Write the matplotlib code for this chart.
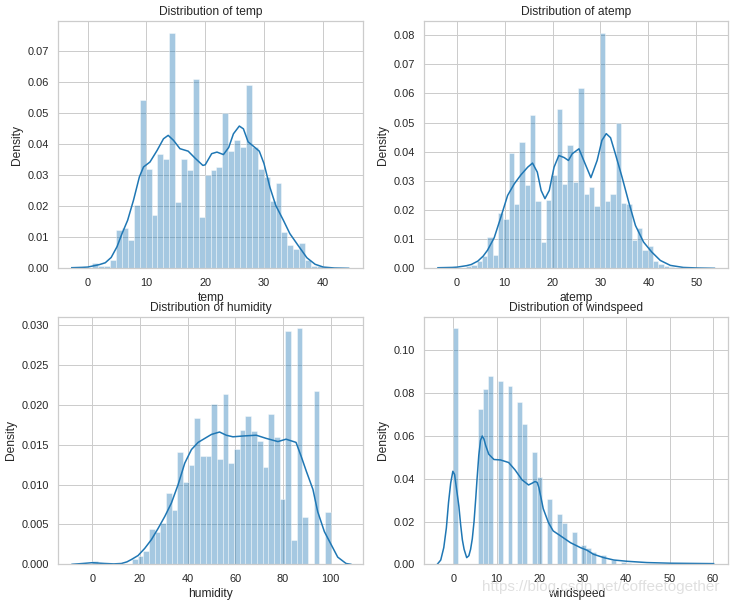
import numpy as np
import matplotlib.pyplot as plt
from matplotlib.ticker import MultipleLocator

# histogram densities (one value per bin)
temp_range = (0.82, 41.0)
temp_density = [0.0017, 0.0006, 0.0006, 0.0028, 0.0125, 0.0131, 0.0090, 0.0205,
                0.0544, 0.0322, 0.0173, 0.0370, 0.0354, 0.0760, 0.0214, 0.0354,
                0.0316, 0.0612, 0.0166, 0.0300, 0.0317, 0.0327, 0.0501, 0.0380,
                0.0415, 0.0390, 0.0591, 0.0390, 0.0322, 0.0295, 0.0216, 0.0275,
                0.0117, 0.0074, 0.0063, 0.0082, 0.0028, 0.0007, 0.0006, 0.0003]

atemp_range = (0.76, 45.455)
atemp_density = [0.0002, 0.0007, 0.0013, 0.0025, 0.0042, 0.0107, 0.0046, 0.0190,
                 0.0169, 0.0395, 0.0222, 0.0433, 0.0286, 0.0525, 0.0231, 0.0090,
                 0.0233, 0.0319, 0.0547, 0.0290, 0.0424, 0.0296, 0.0620, 0.0256,
                 0.0279, 0.0214, 0.0808, 0.0231, 0.0254, 0.0498, 0.0224, 0.0222,
                 0.0098, 0.0138, 0.0064, 0.0077, 0.0024, 0.0016, 0.0007, 0.0005]

humidity_range = (0, 100)
humidity_density = [0.0004, 0, 0, 0, 0, 0, 0, 0.0007, 0.0010, 0.0017, 0.0044,
                    0.0040, 0.0052, 0.0089, 0.0068, 0.0141, 0.0103, 0.0124, 0.0183,
                    0.0136, 0.0136, 0.0201, 0.0132, 0.0214, 0.0127, 0.0145, 0.0169,
                    0.0186, 0.0167, 0.0155, 0.0122, 0.0189, 0.0160, 0.0082, 0.0293,
                    0.0030, 0.0296, 0.0059, 0, 0.0217, 0, 0.0065]

windspeed_range = (0, 56.9969)
windspeed_density = [0.1103, 0, 0, 0, 0, 0.0725, 0.0819, 0.0881, 0, 0.0855,
                     0, 0.0835, 0, 0.0760, 0.0654, 0, 0.0527, 0.0407, 0, 0.0307,
                     0, 0.0236, 0.0192, 0, 0.0151, 0, 0.0090, 0.0075, 0.0058, 0,
                     0.0042, 0, 0.0020, 0, 0.0011, 0.0006, 0, 0.0003, 0.0003, 0,
                     0.0002, 0, 0.0001, 0.0001, 0, 0.00005, 0, 0, 0, 0.00005]

# kde curves, points
temp_kde_x = [-2.7, -1.0, 0.0, 1.0, 2.0, 3.0, 4.0, 5.0, 5.8, 6.8, 7.8, 8.8, 9.5,
              10.6, 11.8, 12.9, 13.7, 14.6, 15.7, 17.1, 18.3, 19.6, 20.0, 21.1,
              22.0, 23.1, 24.0, 24.8, 25.8, 26.5, 27.3, 28.2, 29.2, 30.0, 31.0,
              32.0, 33.3, 34.4, 35.8, 37.3, 38.7, 40.1, 42.0, 44.4]
temp_kde_y = [0.0002, 0.0003, 0.0004, 0.0008, 0.0012, 0.0018, 0.0035, 0.0070,
              0.0110, 0.0155, 0.0220, 0.0295, 0.0327, 0.0343, 0.0380, 0.0418,
              0.0429, 0.0413, 0.0386, 0.0378, 0.0355, 0.0332, 0.0334, 0.0370,
              0.0375, 0.0367, 0.0390, 0.0434, 0.0459, 0.0450, 0.0408, 0.0394,
              0.0378, 0.0338, 0.0262, 0.0203, 0.0155, 0.0112, 0.0074, 0.0034,
              0.0013, 0.0004, 0.0001, 0.0]

atemp_kde_x = [-3.95, -1.0, 0.0, 2.0, 3.0, 4.4, 5.5, 6.4, 7.8, 9.2, 10.6, 12.0,
               13.4, 14.8, 15.8, 16.8, 17.6, 18.4, 19.3, 20.3, 21.3, 22.4, 23.3,
               24.1, 25.5, 26.5, 28.0, 29.3, 30.3, 31.2, 32.1, 33.1, 34.5, 35.9,
               37.3, 39.0, 40.7, 42.5, 44.6, 47.3, 50.5, 53.8]
atemp_kde_y = [0.0002, 0.0003, 0.0004, 0.0009, 0.0013, 0.0025, 0.0042, 0.0062,
               0.0105, 0.0176, 0.0250, 0.0290, 0.0321, 0.0347, 0.0361, 0.0330,
               0.0267, 0.0239, 0.0267, 0.0347, 0.0387, 0.0380, 0.0370, 0.0393,
               0.0410, 0.0370, 0.0311, 0.0370, 0.0439, 0.0462, 0.0448, 0.0393,
               0.0313, 0.0227, 0.0147, 0.0090, 0.0056, 0.0027, 0.0010, 0.0003,
               0.0001, 0.0]

humidity_kde_x = [-8.5, -4.0, 0.0, 2.5, 5.2, 9.0, 12.2, 14.5, 16.4, 19.2, 22.0,
                  24.8, 27.6, 30.4, 33.2, 36.0, 38.8, 41.6, 44.4, 47.2, 50.0,
                  53.4, 56.2, 59.0, 63.2, 68.8, 73.0, 77.9, 81.3, 85.5, 87.6,
                  89.8, 92.6, 94.6, 97.4, 100.2, 103.0, 106.5, 108.5]
humidity_kde_y = [0.0, 0.0001, 0.0002, 0.00015, 0.0001, 0.00005, 0.0001, 0.0003,
                  0.0006, 0.0011, 0.0020, 0.0031, 0.0045, 0.0060, 0.0077, 0.0100,
                  0.0127, 0.0144, 0.0153, 0.0158, 0.0163, 0.0166, 0.0162, 0.0160,
                  0.0161, 0.0162, 0.0158, 0.0154, 0.0157, 0.0153, 0.0136, 0.0117,
                  0.0094, 0.0066, 0.0041, 0.0025, 0.0009, 0.0001, 0.0]

windspeed_kde_x = [-3.7, -2.9, -2.2, -1.6, -1.1, -0.6, -0.1, 0.3, 0.9, 1.3, 1.7,
                   2.1, 2.5, 3.1, 3.6, 4.0, 4.4, 4.8, 5.2, 5.5, 5.9, 6.3, 6.7,
                   7.1, 7.5, 8.2, 9.4, 10.9, 12.8, 14.3, 15.9, 17.4, 18.3, 18.9,
                   19.4, 19.8, 20.8, 22.0, 23.1, 24.8, 27.1, 29.4, 30.9, 32.4,
                   34.8, 37.1, 40.2, 44.8, 50.2, 55.0, 60.2]
windspeed_kde_y = [0.0, 0.0020, 0.0078, 0.0170, 0.0289, 0.0380, 0.0435, 0.0420,
                   0.0330, 0.0270, 0.0185, 0.0114, 0.0070, 0.0031, 0.0040, 0.0070,
                   0.0120, 0.0200, 0.0310, 0.0400, 0.0510, 0.0580, 0.0600, 0.0585,
                   0.0555, 0.0515, 0.0490, 0.0488, 0.0476, 0.0441, 0.0395, 0.0371,
                   0.0380, 0.0387, 0.0383, 0.0359, 0.0260, 0.0195, 0.0156, 0.0133,
                   0.0101, 0.0078, 0.0066, 0.0047, 0.0031, 0.0020, 0.0014, 0.0008,
                   0.0005, 0.0004, 0.0003]

panels = [
    ("temp", temp_range, temp_density, temp_kde_x, temp_kde_y, (-5.0, 46.9), 10, 0.01),
    ("atemp", atemp_range, atemp_density, atemp_kde_x, atemp_kde_y, (-6.8, 56.7), 10, 0.01),
    ("humidity", humidity_range, humidity_density, humidity_kde_x, humidity_kde_y, (-14.3, 113.5), 20, 0.005),
    ("windspeed", windspeed_range, windspeed_density, windspeed_kde_x, windspeed_kde_y, (-6.7, 63.6), 10, 0.02),
]

plt.rcParams['font.family'] = ['Liberation Sans', 'DejaVu Sans']
plt.rcParams['text.color'] = '#262626'
plt.rcParams['axes.labelcolor'] = '#262626'
plt.rcParams['xtick.color'] = '#262626'
plt.rcParams['ytick.color'] = '#262626'

fig = plt.figure(figsize=(7.35, 6.05), dpi=100)
positions = [
    [0.0793, 0.5565, 0.4150, 0.4088],
    [0.5773, 0.5565, 0.4136, 0.4088],
    [0.0793, 0.0673, 0.4142, 0.4093],
    [0.5773, 0.0673, 0.4136, 0.4093],
]

for pos, (name, rng, dens, kx, ky, xlim, xstep, ystep) in zip(positions, panels):
    ax = fig.add_axes(pos)
    edges = np.linspace(rng[0], rng[1], len(dens) + 1)
    ax.hist(edges[:-1], bins=edges, weights=dens, color='#1f77b4', alpha=0.4,
            edgecolor='white', linewidth=0.72)
    ax.plot(kx, ky, color='#1f77b4', linewidth=1.1)
    ax.set_xlim(*xlim)
    ax.set_ylim(0, max(dens) * 1.05)
    ax.xaxis.set_major_locator(MultipleLocator(xstep))
    ax.yaxis.set_major_locator(MultipleLocator(ystep))
    ax.set_axisbelow(True)
    ax.grid(True, color='#cccccc', linewidth=0.72)
    for s in ax.spines.values():
        s.set_color('#cccccc')
        s.set_linewidth(0.9)
    ax.tick_params(length=0, pad=6.8, labelsize=7.92)
    ax.set_title("Distribution of " + name, fontsize=8.64, pad=4.3)
    ax.set_xlabel(name, fontsize=8.64, labelpad=2.9)
    ax.set_ylabel("Density", fontsize=8.64, labelpad=2.9)

# blog watermark sitting over the bottom-right corner
fig.text(0.818, 0.03, "https://blog.csdn.net/coffeetogether", ha='center', va='center',
         color='#e0e0e0', fontsize=11)

fig.savefig("out.png", dpi=100)
